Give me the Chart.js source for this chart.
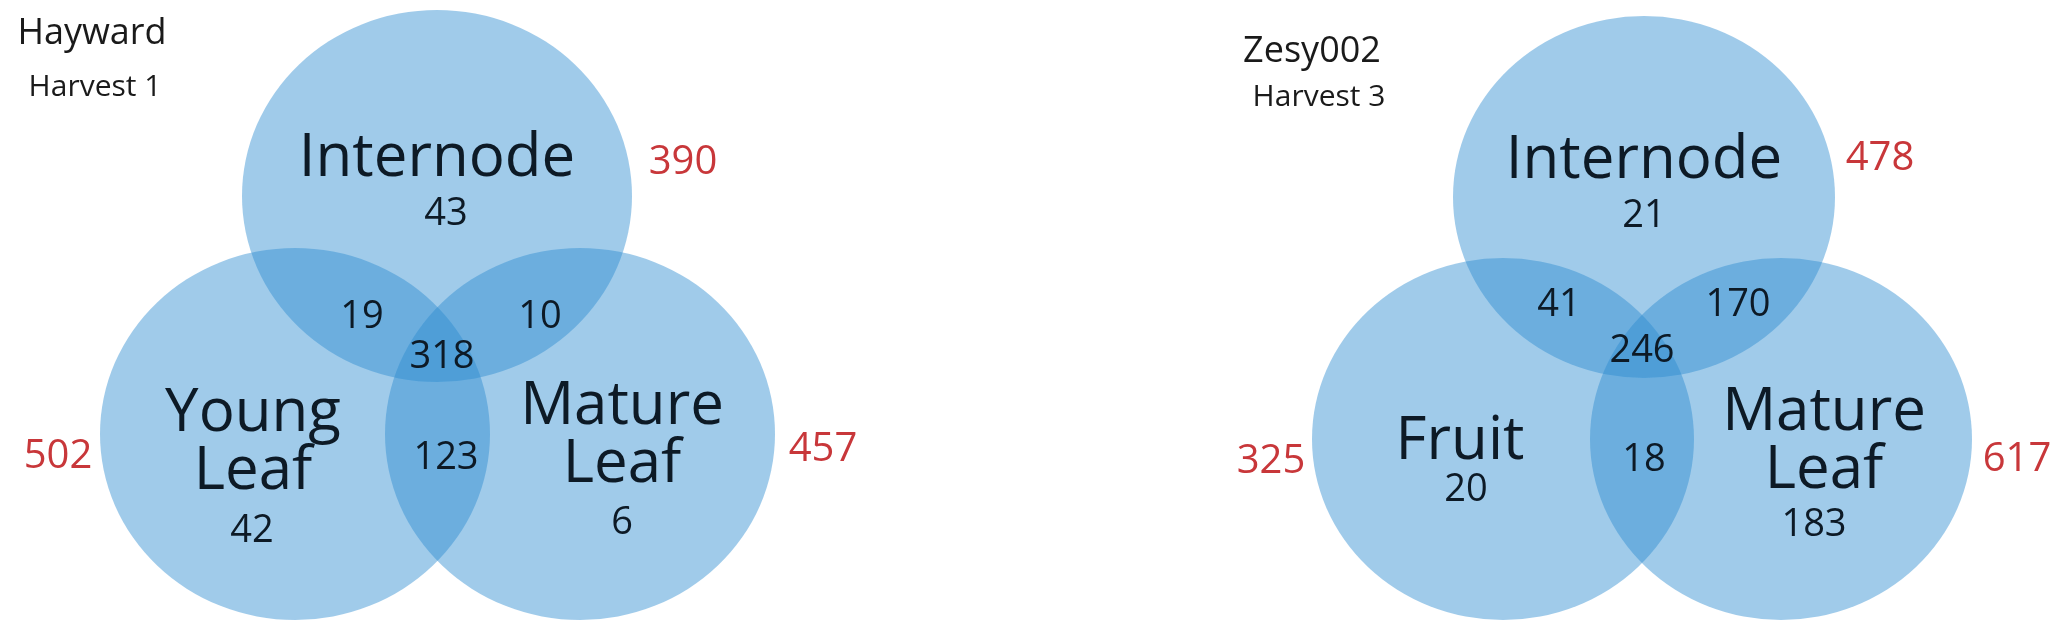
<!DOCTYPE html>
<html>
<head>
<meta charset="utf-8">
<script src="https://cdn.jsdelivr.net/npm/chart.js@4/dist/chart.umd.min.js"></script>
<style>
  html, body { margin: 0; padding: 0; background: #fff; }
  #venn { display: block; }
</style>
</head>
<body>
<canvas id="venn" width="2060" height="633"></canvas>
<script>
// data
const cultivars = ['Hayward', 'Zesy002'];
const harvests = ['Harvest 1', 'Harvest 3'];
const setNames = [
    ['Internode', 'Young\nLeaf', 'Mature\nLeaf'],
    ['Internode', 'Fruit', 'Mature\nLeaf']
];
const setTotals = [[390, 502, 457], [478, 325, 617]];
const uniqueCounts = [[43, 42, 6], [21, 20, 183]];
// overlaps: top-left (set0 & set1), top-right (set0 & set2), bottom (set1 & set2)
const pairCounts = [[19, 10, 123], [41, 170, 18]];
const coreCounts = [318, 246];

// layout (pixels on a 2060 x 633 canvas)
const layout = [
    {
        centers: [[437, 196], [295, 434], [580, 434]], rx: 196, ry: 187,
        title: [92, 34], sub: [95, 87],
        names: [[437, 159], [253, 443], [622, 436]],
        uniques: [[446, 214], [252, 531], [622, 523]],
        pairs: [[362, 317], [540, 317], [446, 458]], core: [442, 357],
        totals: [[683, 163], [58, 457], [823, 450]]
    },
    {
        centers: [[1644, 197], [1503, 439], [1781, 439]], rx: 192, ry: 182,
        title: [1312, 52], sub: [1319, 97],
        names: [[1644, 161], [1460, 442], [1824, 442]],
        uniques: [[1644, 216], [1466, 490], [1814, 525]],
        pairs: [[1559, 305], [1738, 305], [1644, 460]], core: [1642, 351],
        totals: [[1880, 159], [1271, 462], [2017, 460]]
    }
];

const FONT = '"Open Sans", "DejaVu Sans", sans-serif';

function ellipseImage(rx, ry) {
    const c = document.createElement('canvas');
    c.width = rx * 2;
    c.height = ry * 2;
    const g = c.getContext('2d');
    g.fillStyle = 'rgba(44,139,208,0.45)';
    g.beginPath();
    g.ellipse(rx, ry, rx - 1, ry - 1, 0, 0, Math.PI * 2);
    g.fill();
    return c;
}

const datasets = layout.map((p, i) => ({
    label: cultivars[i],
    data: p.centers.map(c => ({x: c[0], y: c[1]})),
    pointStyle: ellipseImage(p.rx, p.ry),
    pointRadius: p.rx,
    pointHoverRadius: p.rx,
    clip: false
}));

const textPlugin = {
    id: 'vennText',
    afterDatasetsDraw(chart) {
        const ctx = chart.ctx;
        const xs = chart.scales.x, ys = chart.scales.y;
        const put = (txt, pos, size, color, lineH) => {
            ctx.font = size + 'px ' + FONT;
            ctx.fillStyle = color;
            const lines = String(txt).split('\n');
            const h = lineH || size;
            lines.forEach((ln, k) => {
                const off = (k - (lines.length - 1) / 2) * h;
                ctx.fillText(ln, xs.getPixelForValue(pos[0]), ys.getPixelForValue(pos[1]) + off);
            });
        };
        ctx.save();
        ctx.textAlign = 'center';
        ctx.textBaseline = 'middle';
        layout.forEach((p, i) => {
            put(cultivars[i], p.title, 36, '#1a1a1a');
            put(harvests[i], p.sub, 30, '#1a1a1a');
            setNames[i].forEach((n, k) => put(n, p.names[k], 60, '#0d1a26', 58));
            uniqueCounts[i].forEach((v, k) => put(v, p.uniques[k], 38, '#0d1a26'));
            pairCounts[i].forEach((v, k) => put(v, p.pairs[k], 38, '#0d1a26'));
            put(coreCounts[i], p.core, 38, '#0d1a26');
            setTotals[i].forEach((v, k) => put(v, p.totals[k], 40, '#c8373a'));
        });
        ctx.restore();
    }
};

new Chart(document.getElementById('venn'), {
    type: 'scatter',
    data: {datasets: datasets},
    options: {
        responsive: false,
        animation: false,
        layout: {padding: 0, autoPadding: false},
        plugins: {legend: {display: false}, tooltip: {enabled: false}},
        scales: {
            x: {type: 'linear', min: 0, max: 2060, display: false},
            y: {type: 'linear', min: 0, max: 633, reverse: true, display: false}
        }
    },
    plugins: [textPlugin]
});
</script>
</body>
</html>
